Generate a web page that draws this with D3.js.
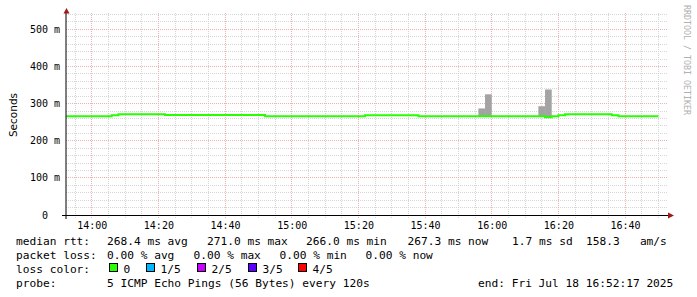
<!DOCTYPE html>
<html>
<head>
<meta charset="utf-8">
<script src="https://d3js.org/d3.v7.min.js"></script>
<style>
  body { margin: 0; background: #fff; }
  svg text { font-family: "DejaVu Sans Mono", monospace; white-space: pre; }
</style>
</head>
<body>
<div id="chart"></div>
<script>
// median rtt (ms) at each change point, probe runs every 120s
const changeTimes = ["13:52", "14:06", "14:08", "14:22", "14:52", "15:22", "15:38",
                     "16:16", "16:18", "16:20", "16:22", "16:36", "16:38", "16:50"];
const medianRtt = [266.0, 268.5, 271.0, 269.5, 266.0, 268.5, 266.0,
                   263.5, 266.0, 268.5, 271.0, 268.5, 266.0, 266.0];

// smoke = spread of the 5 pings, only visible on a few steps
const smokeTimes = ["15:56", "15:58", "16:14", "16:16"];
const smokeLow = [266, 266, 266, 263];
const smokeHigh = [287, 325, 293, 338];

const yTicks = [0, 100, 200, 300, 400, 500];
const xTickLabels = ["14:00", "14:20", "14:40", "15:00", "15:20", "15:40", "16:00", "16:20", "16:40"];

const rttLegend = ["268.4 ms avg", "271.0 ms max", "266.0 ms min", "267.3 ms now", "1.7 ms sd", "158.3   am/s"];
const lossLegend = ["0.00 % avg", "0.00 % max", "0.00 % min", "0.00 % now"];
const lossNames = ["0", "1/5", "2/5", "3/5", "4/5"];
const lossColors = ["#26ff00", "#00b8ff", "#c800ff", "#5e00ff", "#ff0000"];
const probeText = "5 ICMP Echo Pings (56 Bytes) every 120s";
const endText = "end: Fri Jul 18 16:52:17 2025";

const width = 697, height = 297;
const plot = {left: 66, right: 666, top: 13, bottom: 215};

const svg = d3.select("#chart").append("svg")
  .attr("width", width)
  .attr("height", height);

const parseHM = d3.timeParse("%H:%M");
const parseHMS = d3.timeParse("%H:%M:%S");
const t0 = parseHMS("13:52:17"), t1 = parseHMS("16:52:17");

const x = d3.scaleTime().domain([t0, t1]).range([plot.left, plot.right]);
const y = d3.scaleLinear().domain([0, 544]).range([plot.bottom, plot.top]);
const px = v => Math.floor(v) + 0.5;

// grid
const gridCol = "#d6d6d6", mgridCol = "#ebb2b2";
const grid = svg.append("g").attr("shape-rendering", "crispEdges");
const minorY = d3.range(20, 544, 20).filter(v => v % 100 != 0);
grid.selectAll(".hmin").data(minorY).join("line")
  .attr("x1", plot.left).attr("x2", 668)
  .attr("y1", d => px(y(d))).attr("y2", d => px(y(d)))
  .attr("stroke", gridCol).attr("stroke-dasharray", "1,1");
const minorX = d3.timeMinute.every(5).range(t0, t1).filter(t => t.getMinutes() % 20 != 0);
grid.selectAll(".vmin").data(minorX).join("line")
  .attr("x1", d => px(x(d))).attr("x2", d => px(x(d)))
  .attr("y1", plot.top).attr("y2", 218)
  .attr("stroke", gridCol).attr("stroke-dasharray", "1,1");
grid.selectAll(".hmaj").data(yTicks.filter(v => v > 0)).join("line")
  .attr("x1", plot.left).attr("x2", 668)
  .attr("y1", d => px(y(d))).attr("y2", d => px(y(d)))
  .attr("stroke", mgridCol).attr("stroke-dasharray", "1,1");
grid.selectAll(".vmaj").data(xTickLabels).join("line")
  .attr("x1", d => px(x(parseHM(d)))).attr("x2", d => px(x(parseHM(d))))
  .attr("y1", plot.top).attr("y2", 218)
  .attr("stroke", mgridCol).attr("stroke-dasharray", "1,1");

svg.append("clipPath").attr("id", "clip").append("rect")
  .attr("x", plot.left).attr("y", plot.top)
  .attr("width", plot.right - plot.left).attr("height", plot.bottom - plot.top);

const body = svg.append("g").attr("clip-path", "url(#clip)");

// smoke
body.selectAll(".smoke").data(smokeTimes).join("rect")
  .attr("x", d => x(parseHM(d)))
  .attr("width", d => x(d3.timeMinute.offset(parseHM(d), 2)) - x(parseHM(d)))
  .attr("y", (d, i) => y(smokeHigh[i]))
  .attr("height", (d, i) => y(smokeLow[i]) - y(smokeHigh[i]))
  .attr("fill", "#a3a3a3");

// median line
const line = d3.line()
  .x((d, i) => x(parseHM(changeTimes[i])))
  .y(d => y(d))
  .curve(d3.curveStepAfter);
body.append("path").datum(medianRtt)
  .attr("d", line)
  .attr("fill", "none")
  .attr("stroke", lossColors[0])
  .attr("stroke-width", 2);

// axes
svg.append("line").attr("x1", plot.left).attr("x2", plot.left)
  .attr("y1", 219).attr("y2", 11).attr("stroke", "#000");
svg.append("path").attr("d", "M63.5,13.5L69.5,13.5L66.5,8Z").attr("fill", "#a01818");
svg.append("line").attr("x1", 62).attr("x2", 669)
  .attr("y1", 215.5).attr("y2", 215.5).attr("stroke", "#000");
svg.append("path").attr("d", "M668,212.5L668,218.5L674,215.5Z").attr("fill", "#a01818");

svg.selectAll(".ylab").data(yTicks).join("text")
  .attr("x", 60).attr("y", d => y(d) + 3.5)
  .attr("text-anchor", "end")
  .attr("font-size", 10)
  .text(d => d == 0 ? "0  " : d + " m");

svg.selectAll(".xlab").data(xTickLabels).join("text")
  .attr("x", d => x(parseHM(d)) + 0.5).attr("y", 228.5)
  .attr("text-anchor", "middle")
  .attr("font-size", 10)
  .text(d => d);

svg.append("text")
  .attr("transform", "translate(16.5,115) rotate(-90)")
  .attr("text-anchor", "middle")
  .style("font-family", "'DejaVu Sans', sans-serif")
  .attr("font-size", 10.5)
  .text("Seconds");

svg.append("text")
  .attr("transform", "translate(684,5) rotate(90)")
  .attr("font-size", 8.3)
  .attr("fill", "#b0b0b0")
  .text("RRDTOOL / TOBI OETIKER");

// legend
const fs = 11.2;
const leg = svg.append("g").attr("font-size", fs).attr("fill", "#000");
const rowY = [245, 259, 273, 287];
leg.append("text").attr("x", 16).attr("y", rowY[0]).text("median rtt:");
const rttX = [107, 207, 306, 407.5, 512, 586];
leg.selectAll(".rtt").data(rttLegend).join("text")
  .attr("x", (d, i) => rttX[i]).attr("y", rowY[0]).text(d => d);

leg.append("text").attr("x", 16).attr("y", rowY[1]).text("packet loss:");
const lossX = [107, 193.5, 279.5, 365.5];
leg.selectAll(".loss").data(lossLegend).join("text")
  .attr("x", (d, i) => lossX[i]).attr("y", rowY[1]).text(d => d);

leg.append("text").attr("x", 16).attr("y", rowY[2]).text("loss color:");
const swX = [109, 146, 197, 248, 298];
leg.selectAll(".sw").data(lossColors).join("rect")
  .attr("x", (d, i) => swX[i] + 0.5).attr("y", 263.5)
  .attr("width", 8).attr("height", 8)
  .attr("fill", d => d).attr("stroke", "#000");
leg.selectAll(".swl").data(lossNames).join("text")
  .attr("x", (d, i) => swX[i] + 14.5).attr("y", rowY[2]).text(d => d);

leg.append("text").attr("x", 16).attr("y", rowY[3]).text("probe:");
leg.append("text").attr("x", 107).attr("y", rowY[3]).text(probeText);
leg.append("text").attr("x", 478).attr("y", rowY[3]).text(endText);
</script>
</body>
</html>
